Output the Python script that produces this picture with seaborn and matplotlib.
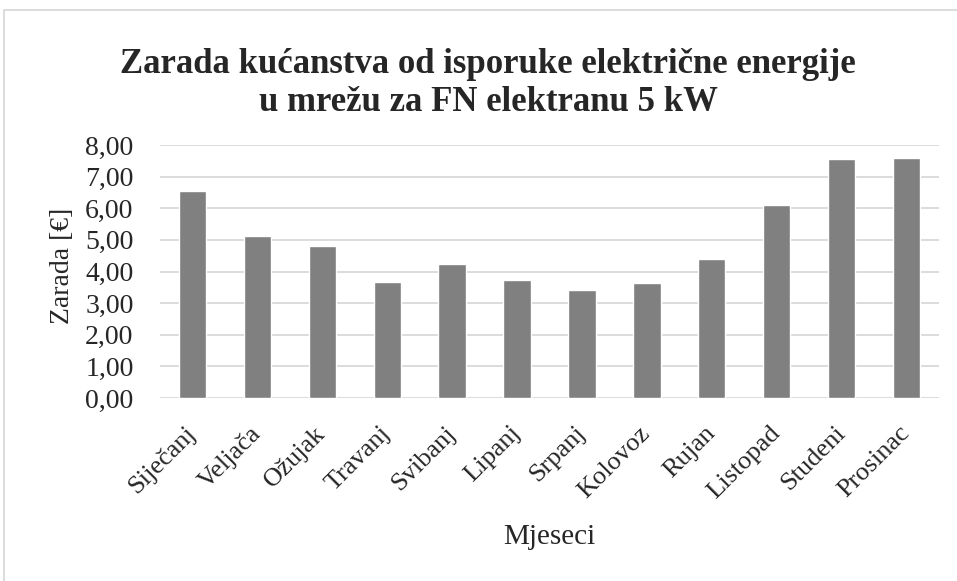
import matplotlib
matplotlib.use("Agg")
import matplotlib.pyplot as plt
import seaborn as sns
import pandas as pd
from matplotlib.patches import Rectangle

months = ["Siječanj", "Veljača", "Ožujak", "Travanj", "Svibanj", "Lipanj",
          "Srpanj", "Kolovoz", "Rujan", "Listopad", "Studeni", "Prosinac"]
earnings = [6.55, 5.13, 4.80, 3.68, 4.23, 3.74, 3.40, 3.65, 4.38, 6.10, 7.55, 7.60]
y_ticks = [0, 1, 2, 3, 4, 5, 6, 7, 8]

title_lines = ["Zarada kućanstva od isporuke električne energije",
               "u mrežu za FN elektranu 5 kW"]
x_label = "Mjeseci"
y_label = "Zarada [€]"

sns.set_theme(style="white")
plt.rcParams["font.family"] = ["Liberation Serif", "DejaVu Serif"]

df = pd.DataFrame({"Mjesec": months, "Zarada": earnings})

W, H = 957, 581
fig = plt.figure(figsize=(W / 100, H / 100), dpi=100)
ax = fig.add_axes([160 / W, 1 - 398 / H, (939 - 160) / W, (398 - 145) / H])

sns.barplot(data=df, x="Mjesec", y="Zarada", color="#808080", saturation=1,
            width=0.42, ax=ax, zorder=3)

ax.set_ylim(0, 8)
ax.set_xlim(-0.5, len(months) - 0.5)
ax.set_yticks(y_ticks)
ax.set_yticklabels([f"{v:.2f}".replace(".", ",") for v in y_ticks], fontsize=20)
ax.yaxis.grid(True, color="#d9d9d9", linewidth=1.3, zorder=0)
ax.xaxis.grid(False)
for s in ax.spines.values():
    s.set_visible(False)
ax.tick_params(axis="y", length=0, pad=19)
ax.tick_params(axis="x", length=0, pad=23)
plt.setp(ax.get_xticklabels(), rotation=45, ha="right", va="center",
         rotation_mode="anchor", fontsize=19)

ax.set_xlabel(x_label, fontsize=21)
ax.set_ylabel(y_label, fontsize=20, va="center")
ax.xaxis.set_label_coords(0.5, -(524 - 398) / (398 - 145))
ax.yaxis.set_label_coords((62 - 160) / (939 - 160), (398 - 266) / (398 - 145))

for line, base_y in zip(title_lines, [73, 111]):
    fig.text(488 / W, 1 - base_y / H, line, ha="center", va="baseline",
             fontsize=25, fontweight="bold")

# chart area frame
fig.patches.append(Rectangle((4 / W, -0.05), 1.0, 1 - 10 / H + 0.05,
                             transform=fig.transFigure, fill=False,
                             edgecolor="#d9d9d9", linewidth=1.3))

fig.savefig("out.png", dpi=100)
